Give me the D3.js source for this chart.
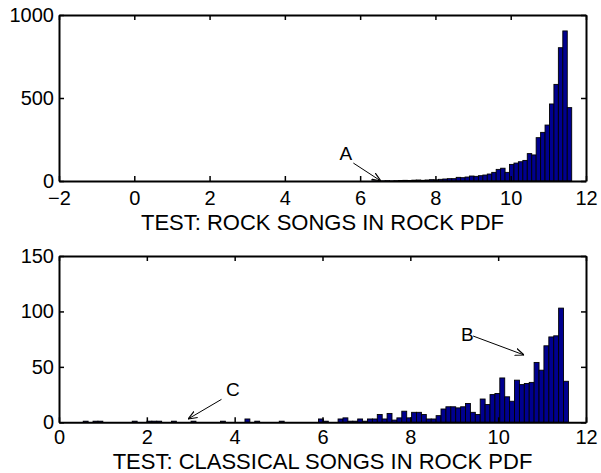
<!DOCTYPE html>
<html>
<head>
<meta charset="utf-8">
<script src="https://cdn.jsdelivr.net/npm/d3@7"></script>
<style>
  body { margin: 0; background: #fff; }
  svg text { font-family: "Liberation Sans", Arial, Helvetica, sans-serif; fill: #000; }
</style>
</head>
<body>
<div id="chart"></div>
<script>
// histograms, 100 equal-width bins between the given range
const rockRange = [-0.18, 11.62];
const rockCounts = [
  0, 0, 0, 0, 0, 0, 0, 0, 0, 0,
  0, 0, 0, 0, 0, 0, 0, 0, 0, 0,
  0, 0, 0, 0, 0, 0, 0, 0, 0, 0,
  0, 0, 0, 0, 0, 0, 0, 0, 0, 0,
  0, 0, 0, 0, 0, 0, 0, 0, 0, 0,
  0, 0, 0, 0, 0, 1, 0, 1, 2, 1,
  2, 3, 4, 3, 5, 6, 4, 6, 8, 7,
  10, 12, 14, 14, 22, 20, 24, 30, 28, 32,
  36, 42, 52, 70, 77, 52, 100, 108, 116, 124,
  165, 157, 261, 293, 337, 464, 582, 803, 904, 442
];

const classicalRange = [0.44, 11.6];
const classicalCounts = [
  0, 1, 0, 1, 1, 0, 0, 0, 0, 0,
  0, 1, 0, 0, 1, 1, 1, 0, 0, 1,
  0, 0, 0, 1, 0, 0, 0, 0, 0, 1,
  0, 0, 0, 0, 3, 0, 1, 0, 0, 0,
  0, 1, 0, 0, 0, 0, 0, 0, 0, 3,
  1, 0, 0, 3, 4, 1, 1, 3, 1, 3,
  3, 7, 3, 8, 2, 4, 10, 4, 9, 9,
  7, 3, 3, 6, 12, 14, 14, 13, 14, 17,
  9, 7, 21, 16, 25, 26, 40, 23, 19, 38,
  34, 35, 36, 54, 47, 69, 77, 78, 103, 37
];

const rockXTicks = [-2, 0, 2, 4, 6, 8, 10, 12];
const rockYTicks = [0, 500, 1000];
const classicalXTicks = [0, 2, 4, 6, 8, 10, 12];
const classicalYTicks = [0, 50, 100, 150];

// annotation letters: text centre, arrow start, arrow tip (data units)
const rockNotes = [
  { label: "A", tx: 5.62, ty: 169, x1: 5.82, y1: 108, x2: 6.55, y2: 0 }
];
const classicalNotes = [
  { label: "B", tx: 9.30, ty: 79.6, x1: 9.43, y1: 77.8, x2: 10.59, y2: 60.7 },
  { label: "C", tx: 3.96, ty: 29.6, x1: 3.70, y1: 20.7, x2: 2.94, y2: 3.0 }
];

const W = 601, H = 473;

const svg = d3.select("#chart")
  .append("svg")
  .attr("width", W)
  .attr("height", H);

svg.append("defs").append("marker")
  .attr("id", "arrow")
  .attr("viewBox", "0 0 10 10")
  .attr("refX", 10).attr("refY", 5)
  .attr("markerWidth", 9).attr("markerHeight", 9)
  .attr("markerUnits", "userSpaceOnUse")
  .attr("orient", "auto")
  .append("path")
  .attr("d", "M0,1 L10,5 L0,9")
  .attr("fill", "none")
  .attr("stroke", "#000")
  .attr("stroke-width", 1.3);

function drawPanel(opt) {
  const g = svg.append("g")
    .attr("transform", `translate(${opt.left},${opt.top})`);

  const x = d3.scaleLinear().domain(d3.extent(opt.xTicks)).range([0, opt.width]);
  const y = d3.scaleLinear().domain(d3.extent(opt.yTicks)).range([opt.height, 0]);

  const n = opt.counts.length;
  const step = (opt.range[1] - opt.range[0]) / n;
  const bins = opt.counts.map((c, i) => ({
    x0: opt.range[0] + i * step,
    x1: opt.range[0] + (i + 1) * step,
    count: c
  }));

  g.selectAll("rect.bar")
    .data(bins)
    .enter()
    .append("rect")
    .attr("class", "bar")
    .attr("x", d => x(d.x0))
    .attr("y", d => y(d.count))
    .attr("width", d => x(d.x1) - x(d.x0))
    .attr("height", d => y(0) - y(d.count))
    .attr("fill", "#00008f")
    .attr("stroke", "#000")
    .attr("stroke-width", 0.9);

  const fmt = d => d < 0 ? "\u2212" + Math.abs(d) : String(d);

  const xAxis = g.append("g")
    .attr("transform", `translate(0,${opt.height})`)
    .call(d3.axisBottom(x).tickValues(opt.xTicks).tickFormat(fmt)
      .tickSizeInner(-5).tickSizeOuter(0).tickPadding(opt.xPad));
  const yAxis = g.append("g")
    .call(d3.axisLeft(y).tickValues(opt.yTicks).tickFormat(fmt)
      .tickSizeInner(-5).tickSizeOuter(0).tickPadding(5));
  const topAxis = g.append("g")
    .call(d3.axisTop(x).tickValues(opt.xTicks).tickFormat("")
      .tickSizeInner(-5).tickSizeOuter(0));
  const rightAxis = g.append("g")
    .attr("transform", `translate(${opt.width},0)`)
    .call(d3.axisRight(y).tickValues(opt.yTicks).tickFormat("")
      .tickSizeInner(-5).tickSizeOuter(0));

  [xAxis, yAxis, topAxis, rightAxis].forEach(a => {
    a.select(".domain").attr("stroke", "#000").attr("stroke-width", 2);
    a.selectAll(".tick line").attr("stroke", "#000").attr("stroke-width", 1.5);
    a.selectAll("text").style("font-size", "20px");
  });

  g.append("text")
    .attr("x", opt.width / 2)
    .attr("y", opt.height + opt.labelGap)
    .attr("text-anchor", "middle")
    .style("font-size", "22px")
    .text(opt.label);

  opt.notes.forEach(nt => {
    g.append("line")
      .attr("x1", x(nt.x1)).attr("y1", y(nt.y1))
      .attr("x2", x(nt.x2)).attr("y2", y(nt.y2))
      .attr("stroke", "#000")
      .attr("stroke-width", 1)
      .attr("marker-end", "url(#arrow)");
    g.append("text")
      .attr("x", x(nt.tx))
      .attr("y", y(nt.ty))
      .attr("dy", "0.35em")
      .attr("text-anchor", "middle")
      .style("font-size", "19px")
      .text(nt.label);
  });
}

drawPanel({
  left: 59, top: 15, width: 527, height: 166,
  range: rockRange, counts: rockCounts,
  xTicks: rockXTicks, yTicks: rockYTicks,
  label: "TEST: ROCK SONGS IN ROCK PDF", labelGap: 48.5, xPad: 10,
  notes: rockNotes
});

drawPanel({
  left: 59, top: 256, width: 527, height: 166.3,
  range: classicalRange, counts: classicalCounts,
  xTicks: classicalXTicks, yTicks: classicalYTicks,
  label: "TEST: CLASSICAL SONGS IN ROCK PDF", labelGap: 47, xPad: 8,
  notes: classicalNotes
});
</script>
</body>
</html>
